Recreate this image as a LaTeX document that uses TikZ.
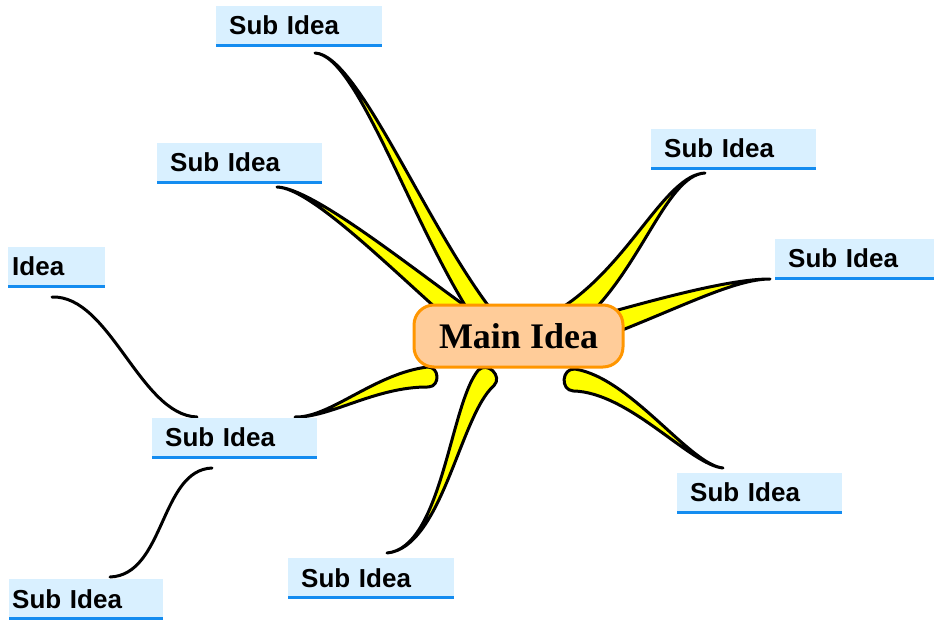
\documentclass[tikz,border=0pt]{standalone}
\usepackage{fontspec}
\setmainfont{Liberation Serif}
\setsansfont{Liberation Sans}
\usetikzlibrary{calc}
\definecolor{boxblue}{RGB}{217,240,255}
\definecolor{lineblue}{RGB}{20,140,240}
\definecolor{mainfill}{RGB}{255,204,153}
\definecolor{mainborder}{RGB}{255,150,0}
\definecolor{petalyellow}{RGB}{255,255,0}
% #1 thin end, #2 control near thin end, #3 control near broad end, #4 broad end, #5 half width
\newcommand\petal[5]{%
  \coordinate (pA) at ($(#4)!#5!90:(#3)$);
  \coordinate (pB) at ($(#4)!#5!-90:(#3)$);
  \coordinate (qA) at ($(#3)!0.65*#5!-90:(#4)$);
  \coordinate (qB) at ($(#3)!0.65*#5!90:(#4)$);
  \coordinate (pE) at ($(#4)!-1.2*#5!(#3)$);
  \coordinate (cA) at ($(pE)!#5!90:(#3)$);
  \coordinate (cB) at ($(pE)!#5!-90:(#3)$);
  \draw[petalstyle] (#1) .. controls (#2) and (qA) .. (pA)
     .. controls (cA) and (cB) .. (pB)
     .. controls (qB) and (#2) .. cycle;
}
\begin{document}
\begin{tikzpicture}[x=1pt,y=-1pt,
  petalstyle/.style={fill=petalyellow, draw=black, line width=3pt, line join=round},
  thinline/.style={draw=black, line width=3pt, line cap=round},
  sub/.style={fill=boxblue, font=\sffamily\bfseries\fontsize{26}{30}\selectfont,
    anchor=north west, inner ysep=0pt, inner xsep=13pt, minimum height=39pt, align=left},
  uline/.style={draw=lineblue, line width=3pt},
  mainbox/.style={rounded corners=20pt, fill=mainfill, draw=mainborder, line width=3pt,
    minimum width=209pt, minimum height=62pt, inner sep=0pt,
    font=\bfseries\fontsize{36}{40}\selectfont}]
\useasboundingbox (0,0) rectangle (934,621);
\fill[white] (0,0) rectangle (934,621);

% branch coordinates
\coordinate (t1) at (315,53);  \coordinate (a1) at (358,55);  \coordinate (b1) at (418,225); \coordinate (e1) at (485,318);
\coordinate (t2) at (277,187); \coordinate (a2) at (312,188); \coordinate (b2) at (400,268); \coordinate (e2) at (466,320);
\coordinate (t3) at (705,173); \coordinate (a3) at (665,175); \coordinate (b3) at (635,270); \coordinate (e3) at (568,318);
\coordinate (t4) at (770,279); \coordinate (a4) at (735,279); \coordinate (b4) at (680,300); \coordinate (e4) at (605,325);
\coordinate (t5) at (723,468); \coordinate (a5) at (690,465); \coordinate (b5) at (630,385); \coordinate (e5) at (574,380);
\coordinate (t6) at (387,553); \coordinate (a6) at (442,548); \coordinate (b6) at (455,410); \coordinate (e6) at (486,378);
\coordinate (t7) at (295,417); \coordinate (a7) at (330,418); \coordinate (b7) at (375,380); \coordinate (e7) at (428,377);

\petal{t2}{a2}{b2}{e2}{11pt}
\petal{t1}{a1}{b1}{e1}{10pt}
\petal{t3}{a3}{b3}{e3}{12pt}
\petal{t4}{a4}{b4}{e4}{11pt}
\petal{t5}{a5}{b5}{e5}{11pt}
\petal{t6}{a6}{b6}{e6}{11pt}
\petal{t7}{a7}{b7}{e7}{10pt}

% thin connectors
\coordinate (ideaend) at (52,297);
\coordinate (leftmidtop) at (197,417);
\coordinate (leftmidbot) at (212,468);
\coordinate (leftbotend) at (110,577);
\draw[thinline] (ideaend) .. controls (110,295) and (140,415) .. (leftmidtop);
\draw[thinline] (leftmidbot) .. controls (160,470) and (165,575) .. (leftbotend);

% main node
\node[mainbox] (main) at (518.5,336) {Main Idea};

% sub idea nodes
\node[sub, minimum width=166pt, text width=140pt] (s1) at (216,6) {Sub Idea};
\node[sub, minimum width=165pt, text width=139pt] (s2) at (157,143) {Sub Idea};
\node[sub, minimum width=97pt, inner xsep=4pt, text width=89pt] (idea) at (8,247) {Idea};
\node[sub, minimum width=165pt, text width=139pt] (s4) at (152,418) {Sub Idea};
\node[sub, minimum width=154pt, inner xsep=3pt, text width=148pt] (s5) at (9,579) {Sub Idea};
\node[sub, minimum width=166pt, text width=140pt] (s6) at (288,558) {Sub Idea};
\node[sub, minimum width=165pt, text width=139pt] (s7) at (677,473) {Sub Idea};
\node[sub, minimum width=165pt, text width=139pt] (s8) at (651,129) {Sub Idea};
\node[sub, minimum width=159pt, text width=133pt] (s9) at (775,239) {Sub Idea};

\foreach \n in {s1,s2,idea,s4,s5,s6,s7,s8,s9}
  \draw[uline] (\n.south west) -- (\n.south east);
\end{tikzpicture}
\end{document}
